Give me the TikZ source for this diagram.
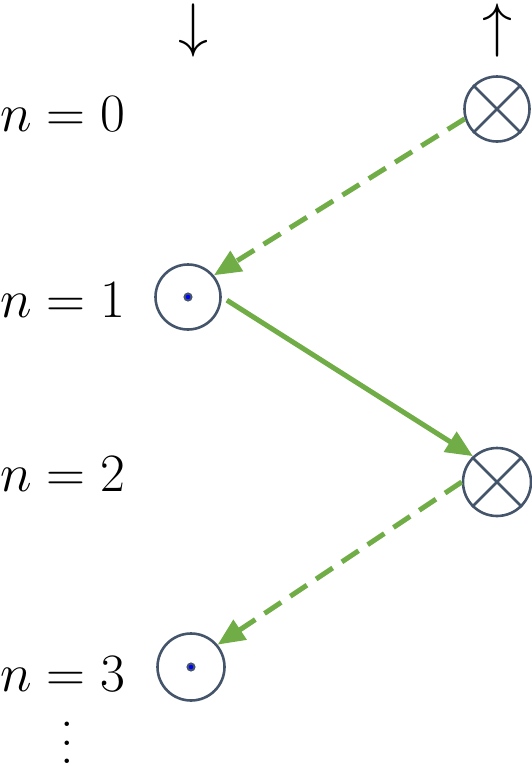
\documentclass[tikz,border=0pt]{standalone}
\usepackage{fix-cm}
\usetikzlibrary{arrows.meta}
\definecolor{grn}{HTML}{70AD47}
\definecolor{slate}{HTML}{44546A}
\begin{document}
\begin{tikzpicture}[x=1pt,y=-1pt,
  lbl/.style={anchor=base west,inner sep=0pt,font=\fontsize{54}{60}\selectfont},
  hdr/.style={anchor=base,inner sep=0pt,font=\fontsize{60}{70}\selectfont},
  vdot/.style={anchor=base,inner sep=0pt,font=\fontsize{54}{60}\selectfont},
  ring/.style={circle,draw=slate,line width=2.6pt,minimum size=65pt,inner sep=0pt},
  cross/.style={draw=slate,line width=2.6pt},
  dotc/.style={fill=blue,draw=slate,line width=2pt},
  flow/.style={draw=grn,line width=5pt,-{Triangle[length=27pt,width=23pt]}},
  dashflow/.style={flow,dash pattern=on 20pt off 11pt}]
\useasboundingbox (0,0) rectangle (531,766);
% headers
\node[hdr] (down) at (193,45) {$\downarrow$};
\node[hdr] (up) at (497,45) {$\uparrow$};
% labels
\node[lbl] (l0) at (0,131) {$n=0$};
\node[lbl] (l1) at (0,317) {$n=1$};
\node[lbl] (l2) at (0,491) {$n=2$};
\node[lbl] (l3) at (0,691) {$n=3$};
\node[vdot] (vd1) at (67,726) {.};
\node[vdot] (vd2) at (67,745) {.};
\node[vdot] (vd3) at (67,763) {.};
% rings
\node[ring] (A0) at (497,109) {};
\node[ring] (B1) at (188,297) {};
\node[ring,minimum size=68pt] (A2) at (497,482) {};
\node[ring,minimum size=67pt] (B3) at (191,667) {};
\draw[cross] (A0.45) -- (A0.225) (A0.135) -- (A0.315);
\draw[cross] (A2.45) -- (A2.225) (A2.135) -- (A2.315);
\path[dotc] (B1) circle (3.5pt);
\path[dotc] (B3) circle (3.5pt);
% connectors
\draw[dashflow] (A0.197) -- (B1.40);
\draw[flow,shorten <=6pt] (B1.east) -- (A2.133);
\draw[dashflow] (A2.180) -- (B3.40);
\end{tikzpicture}
\end{document}
